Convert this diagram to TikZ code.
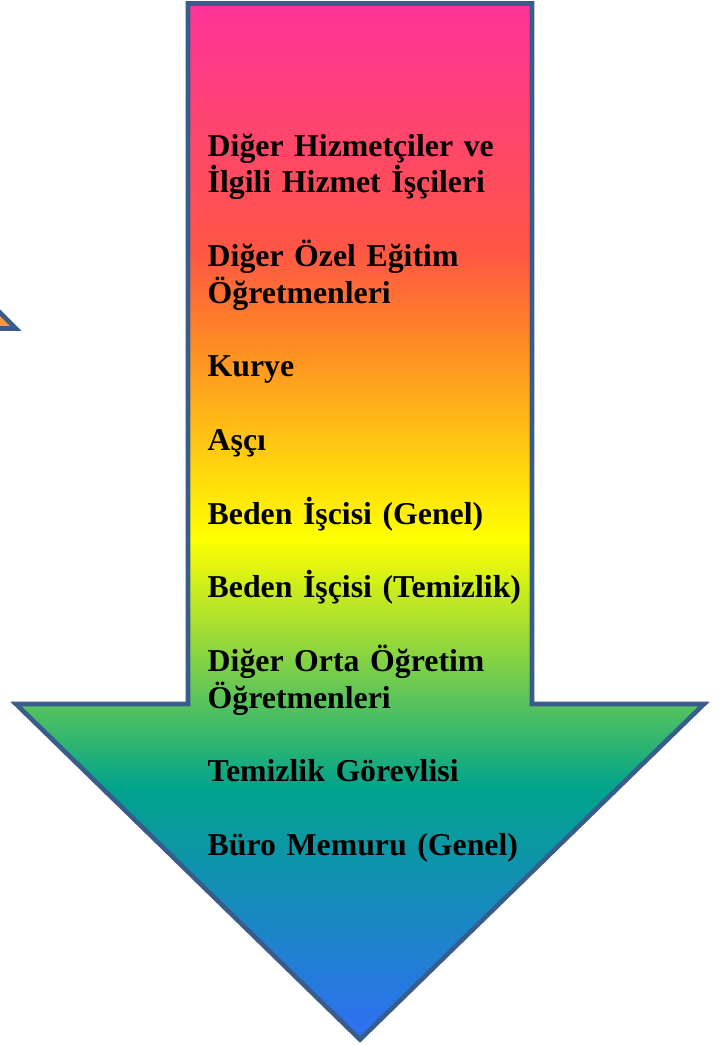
\documentclass[tikz,border=0pt]{standalone}
\usepackage{fontspec}
\setmainfont{Liberation Serif}
\usepackage{tikz}
\definecolor{arrline}{RGB}{56,93,138}
\definecolor{arrpink}{RGB}{255,51,153}
\definecolor{arrred}{RGB}{255,85,70}
\definecolor{arrorange}{RGB}{255,130,40}
\definecolor{arryellow}{RGB}{255,255,0}
\definecolor{arrteal}{RGB}{0,163,140}
\definecolor{arrblue}{RGB}{48,110,245}
\definecolor{triorange}{RGB}{247,150,70}
\pgfdeclareverticalshading{rainbowdown}{100bp}{color(0bp)=(arrblue); color(25bp)=(arrblue); color(37.1bp)=(arrteal); color(49.2bp)=(arryellow); color(59.3bp)=(arrorange); color(63.2bp)=(arrred); color(75bp)=(arrpink); color(100bp)=(arrpink)}
\tikzset{job/.style={anchor=base west, inner sep=0pt, text width=320pt, align=left, font=\fontsize{31.8}{36.8}\selectfont\bfseries}}

\begin{document}
\begin{tikzpicture}[x=1pt,y=-1pt]
\useasboundingbox (0,0) rectangle (725,1045);

% piece of the shape at the left edge
\filldraw[fill=triorange, draw=arrline, line width=4.6pt, line join=miter] (-10,302.5) -- (16,328.5) -- (-10,328.5) -- cycle;

% the big arrow
\shadedraw[shading=rainbowdown, draw=arrline, line width=4.6pt, line join=miter]
  (188,3.5) -- (532,3.5) -- (532,704) -- (704,704) -- (360,1039.5) -- (16,704) -- (188,704) -- cycle;

\node[job] (hizmetci) at (207.5,156) {Diğer Hizmetçiler ve\\İlgili Hizmet İşçileri};
\node[job] (ozelegitim) at (207.5,266.4) {Diğer Özel Eğitim\\Öğretmenleri};
\node[job] (kurye) at (207.5,376.8) {Kurye};
\node[job] (asci) at (207.5,450.4) {Aşçı};
\node[job] (bedengenel) at (207.5,524) {Beden İşcisi (Genel)};
\node[job] (bedentemizlik) at (207.5,597.6) {Beden İşçisi (Temizlik)};
\node[job] (ortaogretim) at (207.5,671.2) {Diğer Orta Öğretim\\Öğretmenleri};
\node[job] (temizlik) at (207.5,781.6) {Temizlik Görevlisi};
\node[job] (buro) at (207.5,855.2) {Büro Memuru (Genel)};
\end{tikzpicture}
\end{document}
